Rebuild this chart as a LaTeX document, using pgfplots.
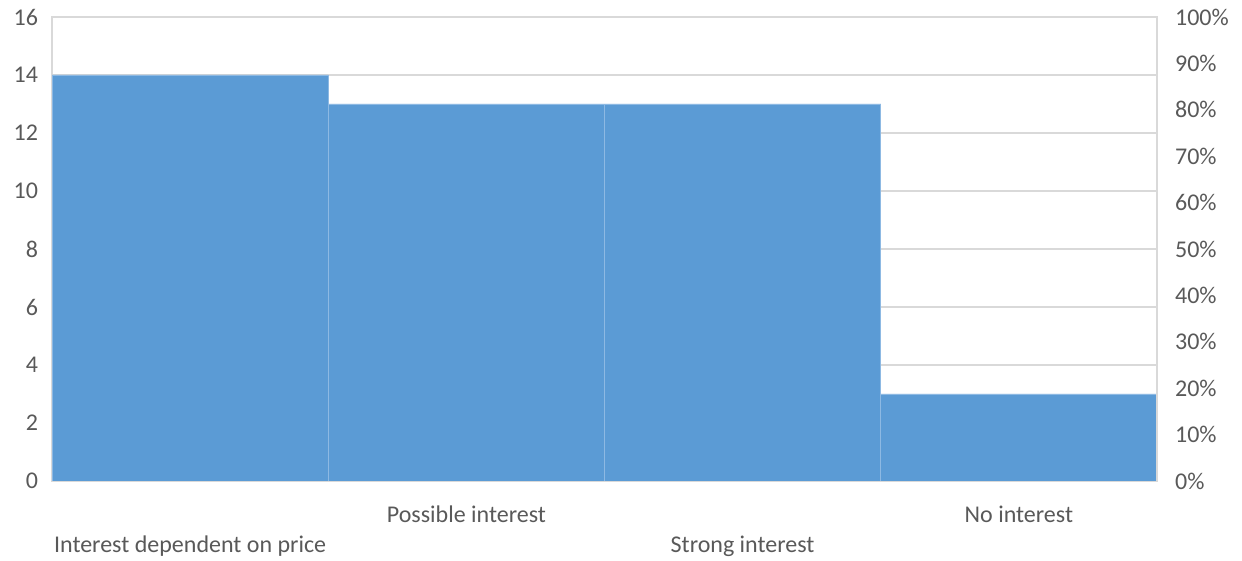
\documentclass[border=0pt]{standalone}
\usepackage{pgfplots}
\pgfplotsset{compat=1.18}
\usepackage{fontspec}
\setmainfont{Carlito}
\definecolor{barblue}{HTML}{5B9BD5}
\definecolor{baredge}{HTML}{8DB9E3}
\definecolor{gridgray}{HTML}{D9D9D9}
\definecolor{txt}{HTML}{595959}
\begin{document}
\begin{tikzpicture}
\useasboundingbox (-26pt,-40pt) rectangle (595pt,240.5pt);
\begin{axis}[
  scale only axis, width=552.5pt, height=232pt,
  xmin=-0.5, xmax=3.5, ymin=0, ymax=16,
  ytick={0,2,...,16},
  xtick={1,3},
  xticklabels={Possible interest,No interest},
  extra x ticks={0,2},
  extra x tick labels={Interest dependent on price,Strong interest},
  extra x tick style={xticklabel style={yshift=-15pt}, grid=none},
  xticklabel style={anchor=north, yshift=-9pt},
  ymajorgrids, grid style={gridgray, line width=0.6pt},
  axis line style={gridgray, line width=0.6pt},
  major tick length=0pt,
  tick label style={font=\fontsize{12}{15}\selectfont, text=txt},
  yticklabel style={xshift=-3.5pt},
  /pgf/number format/assume math mode=true,
]
\addplot[ybar, bar width=1, fill=barblue, draw=baredge, line width=0.4pt] coordinates {(0,14) (1,13) (2,13) (3,3)};
\end{axis}
\begin{axis}[
  scale only axis, width=552.5pt, height=232pt,
  xmin=-0.5, xmax=3.5, ymin=0, ymax=1,
  axis x line=none, axis y line*=right,
  ytick={0,0.1,0.2,0.3,0.4,0.5,0.6,0.7,0.8,0.9,1},
  yticklabels={0\%,10\%,20\%,30\%,40\%,50\%,60\%,70\%,80\%,90\%,100\%},
  axis line style={gridgray, line width=0.6pt},
  major tick length=0pt,
  tick label style={font=\fontsize{12}{15}\selectfont, text=txt},
  yticklabel style={xshift=5.5pt},
]
\end{axis}
\end{tikzpicture}
\end{document}
